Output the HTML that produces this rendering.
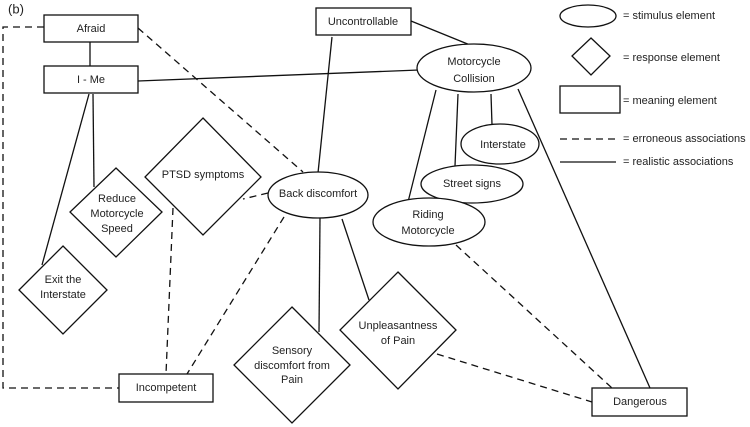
<!DOCTYPE html>
<html><head><meta charset="utf-8"><style>
html,body{margin:0;padding:0;background:#fff;}
svg{display:block;}
text{font-family:"Liberation Sans",sans-serif;font-size:11px;fill:#222;text-anchor:middle;dominant-baseline:middle;}
</style></head><body>
<svg width="750" height="427" viewBox="0 0 750 427" xmlns="http://www.w3.org/2000/svg">
<g stroke="#111" stroke-width="1.3" fill="none">
<line x1="90" y1="42" x2="90" y2="66"/>
<line x1="138" y1="81" x2="419" y2="70"/>
<line x1="89" y1="94" x2="42" y2="265"/>
<line x1="93" y1="94" x2="94" y2="187"/>
<line x1="332" y1="37" x2="318" y2="173"/>
<line x1="411" y1="21" x2="475" y2="47"/>
<line x1="436" y1="90" x2="408" y2="202"/>
<line x1="458" y1="94" x2="455" y2="166"/>
<line x1="491" y1="94" x2="492" y2="125"/>
<line x1="518" y1="89" x2="650" y2="388"/>
<line x1="320" y1="218" x2="319" y2="332"/>
<line x1="342" y1="219" x2="369" y2="300"/>
<g stroke-dasharray="7,5">
<polyline points="44,27 3,27 3,388 119,388"/>
<line x1="138" y1="28" x2="303" y2="172"/>
<line x1="268" y1="193" x2="243" y2="199"/>
<line x1="173" y1="208" x2="166" y2="374"/>
<line x1="284" y1="217" x2="187" y2="374"/>
<line x1="456" y1="245" x2="612" y2="388"/>
<line x1="437" y1="354" x2="592" y2="402"/>
<line x1="560" y1="139" x2="616" y2="139"/>
</g>
<line x1="560" y1="162" x2="616" y2="162"/>
</g>
<g stroke="#111" stroke-width="1.3" fill="#fff">
<rect x="44" y="15" width="94" height="27"/>
<rect x="44" y="66" width="94" height="27"/>
<rect x="316" y="8" width="95" height="27"/>
<rect x="119" y="374" width="94" height="28"/>
<rect x="592" y="388" width="95" height="28"/>
<ellipse cx="474" cy="68" rx="57" ry="24"/>
<ellipse cx="500" cy="144" rx="39" ry="20"/>
<ellipse cx="472" cy="184" rx="51" ry="19"/>
<ellipse cx="429" cy="222" rx="56" ry="24"/>
<ellipse cx="318" cy="195" rx="50" ry="23"/>
<polygon points="203,118 261,177 203,235 145,177"/>
<polygon points="116,168 162,212 116,257 70,212"/>
<polygon points="63,246 107,290 63,334 19,290"/>
<polygon points="292,307 350,365 292,423 234,365"/>
<polygon points="398,272 456,330 398,389 340,330"/>
<ellipse cx="588" cy="16" rx="28" ry="11"/>
<polygon points="591,38 610,56 591,75 572,56"/>
<rect x="560" y="86" width="60" height="27"/>
</g>
<text x="16" y="10" style="font-size:13px">(b)</text>
<text x="91" y="29">Afraid</text>
<text x="91" y="80">I - Me</text>
<text x="363" y="22">Uncontrollable</text>
<text x="474" y="62">Motorcycle</text>
<text x="474" y="79">Collision</text>
<text x="503" y="145">Interstate</text>
<text x="472" y="184">Street signs</text>
<text x="428" y="215">Riding</text>
<text x="428" y="231">Motorcycle</text>
<text x="318" y="194">Back discomfort</text>
<text x="203" y="175">PTSD symptoms</text>
<text x="117" y="199">Reduce</text>
<text x="117" y="214">Motorcycle</text>
<text x="117" y="229">Speed</text>
<text x="63" y="280">Exit the</text>
<text x="63" y="295">Interstate</text>
<text x="292" y="351">Sensory</text>
<text x="292" y="366">discomfort from</text>
<text x="292" y="380">Pain</text>
<text x="398" y="326">Unpleasantness</text>
<text x="398" y="341">of Pain</text>
<text x="166" y="388">Incompetent</text>
<text x="640" y="402">Dangerous</text>
<text x="623" y="16" style="text-anchor:start">= stimulus element</text>
<text x="623" y="58" style="text-anchor:start">= response element</text>
<text x="623" y="101" style="text-anchor:start">= meaning element</text>
<text x="623" y="139" style="text-anchor:start">= erroneous associations</text>
<text x="623" y="162" style="text-anchor:start">= realistic associations</text>
</svg>
</body></html>
